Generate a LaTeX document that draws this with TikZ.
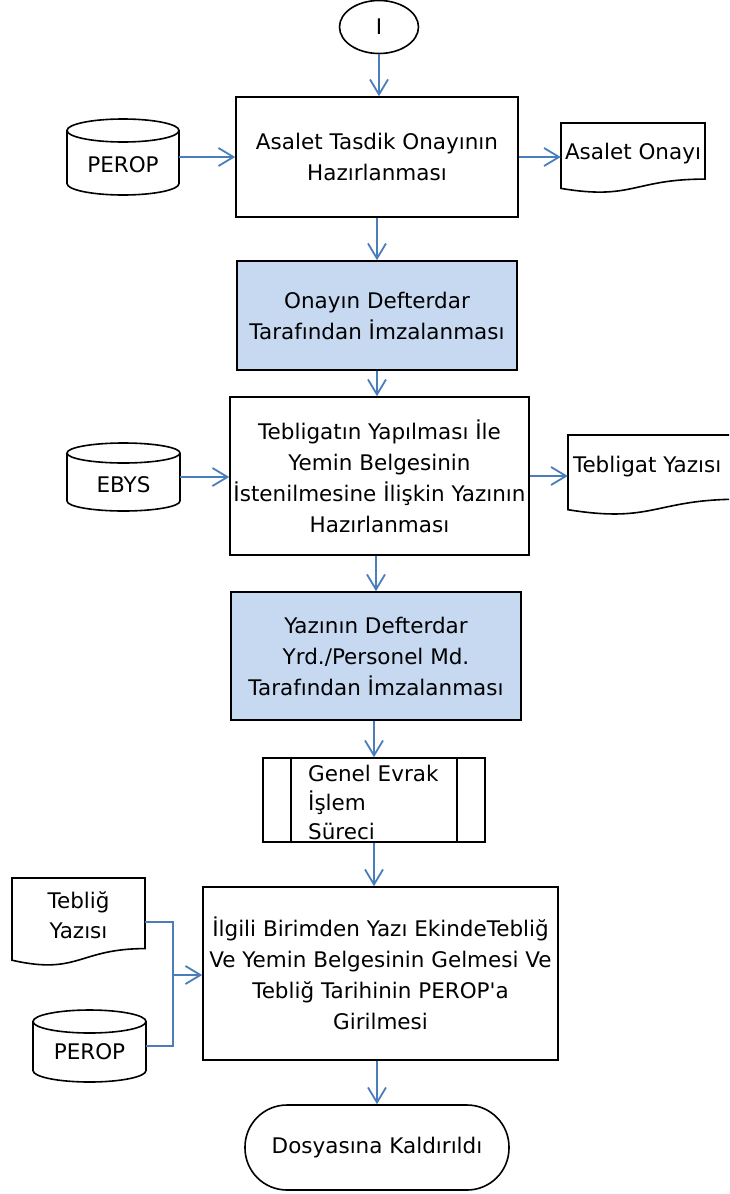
\documentclass[tikz,border=0pt]{standalone}
\usepackage{fontspec}
\newfontfamily\diagfont{DejaVu Sans}
\usetikzlibrary{arrows.meta,shapes.geometric}
\definecolor{flowblue}{HTML}{4A7EBB}
\definecolor{boxfill}{HTML}{C6D9F1}
\tikzset{
  txt/.style={font=\diagfont\fontsize{21.5}{31}\selectfont, align=center, inner sep=0pt},
  procbox/.style={txt, draw=black, line width=1.6pt, rectangle},
  bluebox/.style={procbox, fill=boxfill},
  holder/.style={txt, rectangle},
  shapeline/.style={draw=black, line width=1.6pt},
  flow/.style={draw=flowblue, line width=1.8pt, -{Straight Barb[length=15pt,width=18pt,line width=1.8pt]}},
  flowline/.style={draw=flowblue, line width=1.8pt},
}
\begin{document}
\begin{tikzpicture}[x=1pt,y=-1pt]
\clip (0,0) rectangle (729,1194);
\fill[white] (0,0) rectangle (729,1194);

% start
\node (start) [txt, draw=black, line width=1.6pt, ellipse, minimum width=79, minimum height=53] at (379,27) {I};

% box 1
\node (box1) [procbox, minimum width=282, minimum height=120] at (377,157) {Asalet Tasdik Onayının\\Hazırlanması};

% PEROP 1 cylinder
\node (perop1) [holder, minimum width=112, minimum height=76, label={[txt,yshift=-8pt]center:PEROP}] at (123,157) {};
\draw[shapeline] (123,130.5) ellipse [x radius=56, y radius=11.5];
\draw[shapeline] (67,130.5) -- (67,183.5) arc[start angle=180, end angle=0, x radius=56, y radius=11.5] -- (179,130.5);

% document Asalet Onayi
\node (doc1) [holder, minimum width=144, minimum height=70, label={[txt,yshift=4pt]center:Asalet Onayı}] at (633,158) {};
\draw[shapeline] (561,123) -- (705,123) -- (705,179.1) .. controls (633,179.1) and (633,200.5) .. (561,188.4) -- cycle;

% box 2
\node (box2) [bluebox, minimum width=280, minimum height=109] at (377,315.5) {Onayın Defterdar\\Tarafından İmzalanması};

% box 3
\node (box3) [procbox, minimum width=299, minimum height=158] at (379.5,476) {Tebligatın Yapılması İle\\Yemin Belgesinin\\İstenilmesine İlişkin Yazının\\Hazırlanması};

% EBYS cylinder
\node (ebys) [holder, minimum width=113, minimum height=68, label={[txt,yshift=-8pt]center:EBYS}] at (123.5,477) {};
\draw[shapeline] (123.5,453) ellipse [x radius=56.5, y radius=10];
\draw[shapeline] (67,453) -- (67,501) arc[start angle=180, end angle=0, x radius=56.5, y radius=10] -- (180,453);

% document Tebligat Yazisi
\node (doc2) [holder, minimum width=172, minimum height=80, label={[txt,anchor=west,yshift=8pt,xshift=5pt]west:Tebligat Yazısı}] at (654,475) {};
\draw[shapeline] (568,435) -- (740,435) -- (740,499.2) .. controls (654,499.2) and (654,523.6) .. (568,509.7) -- cycle;

% box 4
\node (box4) [bluebox, minimum width=290, minimum height=128] at (376,656) {Yazının Defterdar\\Yrd./Personel Md.\\Tarafından İmzalanması};

% predefined process
\node (gep) [shapeline, rectangle, minimum width=222, minimum height=84, inner sep=0pt] at (374,800) {};
\draw[shapeline] (291,758) -- (291,842);
\draw[shapeline] (457,758) -- (457,842);
\node (geptext) [txt, font=\diagfont\fontsize{21.5}{29}\selectfont, align=left, anchor=west] at (308,802) {Genel Evrak\\İşlem\\Süreci};

% box 5
\node (box5) [procbox, minimum width=355, minimum height=173] at (380.5,973.5) {İlgili Birimden Yazı EkindeTebliğ\\Ve Yemin Belgesinin Gelmesi Ve\\Tebliğ Tarihinin PEROP'a\\Girilmesi};

% document Teblig Yazisi
\node (doc3) [holder, minimum width=133, minimum height=88, label={[txt,font=\diagfont\fontsize{21.5}{30}\selectfont,yshift=7pt]center:Tebliğ\\Yazısı}] at (78.5,922) {};
\draw[shapeline] (12,878) -- (145,878) -- (145,948.6) .. controls (78.5,948.6) and (78.5,975.4) .. (12,960.2) -- cycle;

% PEROP 2 cylinder
\node (perop2) [holder, minimum width=113, minimum height=72, label={[txt,yshift=-6pt]center:PEROP}] at (89.5,1046) {};
\draw[shapeline] (89.5,1021.5) ellipse [x radius=56.5, y radius=11.5];
\draw[shapeline] (33,1021.5) -- (33,1070.5) arc[start angle=180, end angle=0, x radius=56.5, y radius=11.5] -- (146,1021.5);

% end
\node (end) [txt, draw=black, line width=1.6pt, rectangle, rounded corners=42pt, minimum width=264, minimum height=85] at (377,1147.5) {Dosyasına Kaldırıldı};

% connectors
\coordinate (m) at (173,975);
\draw[flow] (start.south) -- (start.south |- box1.north);
\draw[flow] (perop1.east) -- (perop1.east -| box1.west);
\draw[flow] (box1.east) -- (box1.east -| doc1.west);
\draw[flow] (box1.south) -- (box1.south |- box2.north);
\draw[flow] (box2.south) -- (box2.south |- box3.north);
\draw[flow] (ebys.east) -- (ebys.east -| box3.west);
\draw[flow] (box3.east) -- (box3.east -| doc2.west);
\draw[flow] (box3.south -| box4.north) -- (box4.north);
\draw[flow] (box4.south -| gep.north) -- (gep.north);
\draw[flow] (gep.south) -- (gep.south |- box5.north);
\draw[flowline] (doc3.east) -| (m);
\draw[flowline] (perop2.east) -| (m);
\draw[flow] (m) -- (m -| box5.west);
\draw[flow] (box5.south -| end.north) -- (end.north);
\end{tikzpicture}
\end{document}
